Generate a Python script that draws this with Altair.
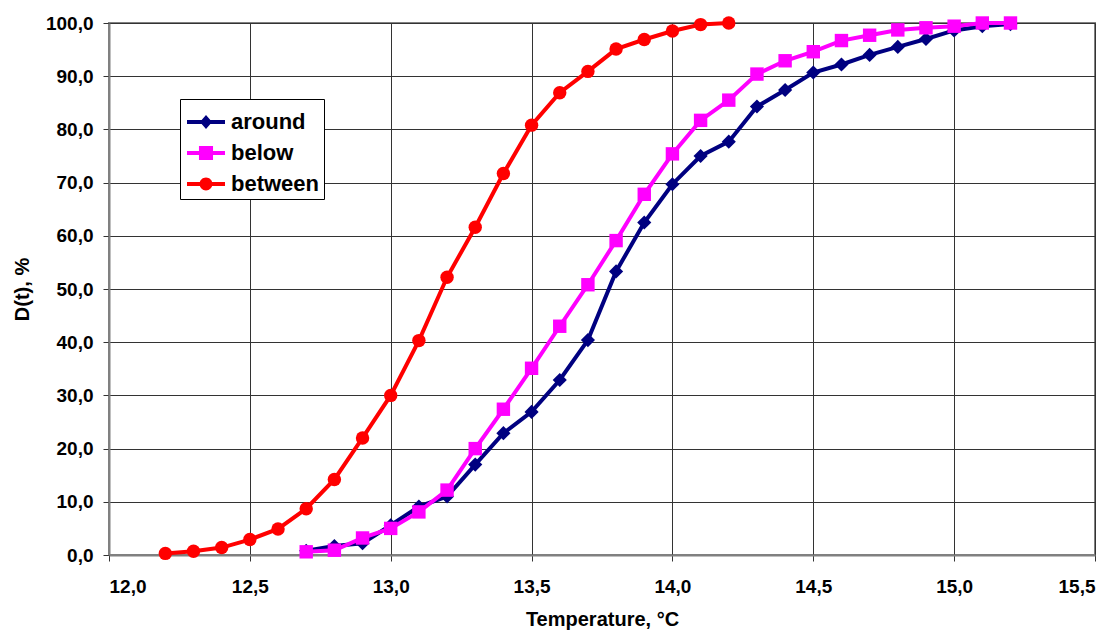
import altair as alt
import pandas as pd

# ---- data ----
temps_between = [12.2, 12.3, 12.4, 12.5, 12.6, 12.7, 12.8, 12.9, 13.0, 13.1, 13.2,
                 13.3, 13.4, 13.5, 13.6, 13.7, 13.8, 13.9, 14.0, 14.1, 14.2]
between = [0.3, 0.7, 1.4, 2.9, 4.9, 8.7, 14.2, 22.0, 30.0, 40.3, 52.2,
           61.6, 71.7, 80.8, 86.9, 90.9, 95.1, 96.9, 98.5, 99.7, 100.0]

temps_other = [12.7, 12.8, 12.9, 13.0, 13.1, 13.2, 13.3, 13.4, 13.5, 13.6, 13.7, 13.8, 13.9,
               14.0, 14.1, 14.2, 14.3, 14.4, 14.5, 14.6, 14.7, 14.8, 14.9, 15.0, 15.1, 15.2]
around = [0.8, 1.7, 2.2, 5.6, 9.1, 11.0, 17.0, 22.9, 26.9, 32.9, 40.4, 53.3, 62.5,
          69.7, 75.0, 77.7, 84.3, 87.4, 90.7, 92.2, 94.0, 95.5, 97.0, 98.6, 99.4, 99.8]
below = [0.6, 0.9, 3.2, 5.0, 8.1, 12.2, 20.0, 27.4, 35.1, 43.0, 50.8, 59.1, 67.8,
         75.4, 81.7, 85.5, 90.4, 92.9, 94.6, 96.7, 97.7, 98.7, 99.1, 99.4, 100.0, 100.0]

series_names = ["around", "below", "between"]
series_colors = ["#000080", "#FF00FF", "#FF0000"]
series_shapes = ["diamond", "square", "circle"]
series_sizes = [200, 180, 180]

x_ticks = [12.0, 12.5, 13.0, 13.5, 14.0, 14.5, 15.0, 15.5]
y_ticks = [0, 10, 20, 30, 40, 50, 60, 70, 80, 90, 100]

FONT = "Liberation Sans"

series_data = {
    "around": (temps_other, around),
    "below": (temps_other, below),
    "between": (temps_between, between),
}

frames = []
for name in series_names:
    t, v = series_data[name]
    frames.append(pd.DataFrame({"T": t, "D": v, "series": name}))
df_all = pd.concat(frames, ignore_index=True)

label_expr = "replace(format(datum.value, '.1f'), '.', ',')"

x_enc = alt.X(
    "T:Q",
    scale=alt.Scale(domain=[12.0, 15.5], nice=False, zero=False),
    axis=alt.Axis(
        values=x_ticks, labelExpr=label_expr, title="Temperature, °C",
        titleX=493, titleY=70, titleBaseline="alphabetic", titleAlign="center",
        labelPadding=16,
    ),
)
y_enc = alt.Y(
    "D:Q",
    scale=alt.Scale(domain=[0, 100], nice=False),
    axis=alt.Axis(
        values=y_ticks, labelExpr=label_expr, title="D(t), %",
        titleX=-81, titleY=266, titleAngle=270, titleBaseline="alphabetic",
        titleAlign="center", labelPadding=10,
    ),
)

layers = []
for name, color, shape, size in zip(series_names, series_colors, series_shapes, series_sizes):
    src = alt.Chart(df_all).transform_filter(alt.datum.series == name)
    layers.append(src.mark_line(color=color, strokeWidth=4).encode(x=x_enc, y=y_enc))
    layers.append(
        src.mark_point(shape=shape, filled=True, size=size, color=color, opacity=1).encode(
            x=x_enc, y=y_enc
        )
    )

# legend symbols: short line with the series marker on it
line_part = "M-1,-0.11L1,-0.11L1,0.11L-1,0.11Z"
legend_paths = [
    line_part + "M0,-0.37L0.32,0L0,0.37L-0.32,0Z",
    line_part + "M-0.37,-0.37L0.37,-0.37L0.37,0.37L-0.37,0.37Z",
    line_part + "M-0.34,0A0.34,0.34 0 1,1 0.34,0A0.34,0.34 0 1,1 -0.34,0Z",
]

legend = alt.Legend(
    title=None, orient="none", legendX=71, legendY=76,
    symbolSize=1444, symbolStrokeWidth=0, symbolOpacity=1,
    labelFont=FONT, labelFontSize=22, labelFontWeight="bold", labelColor="black",
    strokeColor="#000000", fillColor="white", padding=4, rowPadding=1,
    labelOffset=6, symbolOffset=3,
)

legend_layer = (
    alt.Chart(df_all)
    .transform_filter("datum.D < -1000")
    .mark_point(filled=True)
    .encode(
        x=x_enc,
        y=y_enc,
        fill=alt.Fill("series:N", scale=alt.Scale(domain=series_names, range=series_colors), legend=legend),
        shape=alt.Shape("series:N", scale=alt.Scale(domain=series_names, range=legend_paths), legend=legend),
    )
)
layers.append(legend_layer)

chart = (
    alt.layer(*layers)
    .properties(
        width=986, height=532,
        autosize=alt.AutoSizeParams(type="none"),
        padding={"left": 101, "top": 15, "right": 14, "bottom": 77},
        background="white",
    )
    .configure_view(stroke="#808080", strokeWidth=2)
    .configure_axis(
        labelFont=FONT, labelFontSize=19, labelFontWeight="bold", labelColor="black",
        titleFont=FONT, titleFontSize=20, titleFontWeight="bold", titleColor="black",
        gridColor="#333333", gridWidth=1, gridOpacity=1,
        domainColor="#808080", domainWidth=2,
        tickColor="#333333", tickSize=6, tickWidth=1,
    )
)

chart.save("out.html", embed_options={"renderer": "svg", "actions": False})
